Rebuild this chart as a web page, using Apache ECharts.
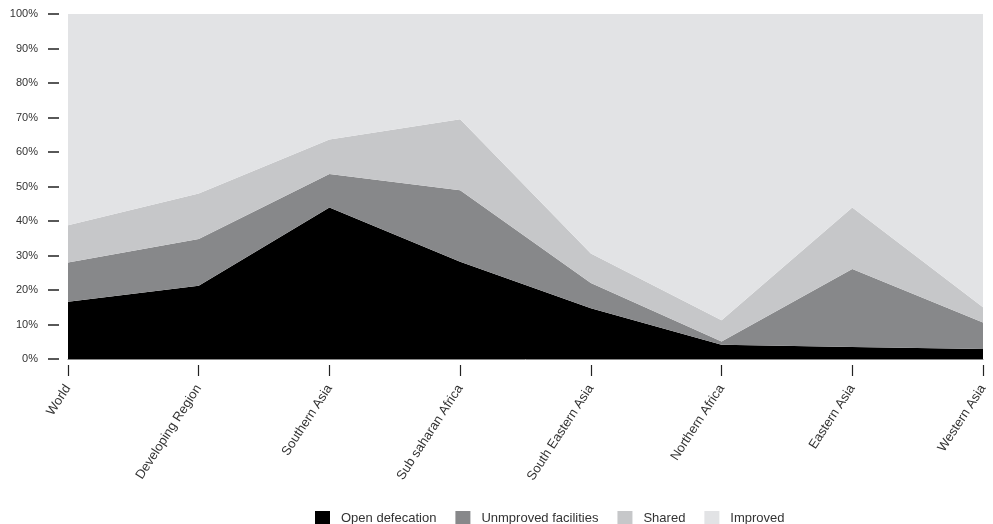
<!DOCTYPE html>
<html><head><meta charset="utf-8">
<script src="https://cdn.jsdelivr.net/npm/echarts@6/dist/echarts.min.js"></script>
<style>html,body{margin:0;padding:0;background:#fff}#c{width:993px;height:524px}</style>
</head><body><div id="c"></div>
<script>
const categories = ["World","Developing Region","Southern Asia","Sub saharan Africa","South Eastern Asia","Northern Africa","Eastern Asia","Western Asia"];
const openDefecation = [16.6, 21.2, 43.9, 28.2, 14.7, 4.1, 3.5, 2.9];
const unimproved     = [11.4, 13.6, 9.7, 20.7, 7.3, 1.0, 22.6, 7.7];
const shared         = [10.8, 13.2, 10.0, 20.6, 8.6, 6.1, 17.8, 4.4];
const improved       = [61.2, 52.0, 36.4, 30.5, 69.4, 88.8, 56.1, 85.0];
const seriesNames = ["Open defecation","Unmproved facilities","Shared","Improved"];
const colors = ["#000000","#87888a","#c6c7c9","#e2e3e5"];
const yTicks = [0,10,20,30,40,50,60,70,80,90,100];

const font = "'Liberation Sans', Arial, sans-serif";
const chart = echarts.init(document.getElementById('c'));
const data = [openDefecation, unimproved, shared, improved];
chart.setOption({
  animation:false,
  color: colors,
  grid:{left:68,right:10,top:14,bottom:165},
  legend:{
    left:310, top:506, itemWidth:15, itemHeight:15, itemGap:19,
    icon:'rect',
    textStyle:{fontFamily:font,fontSize:13,color:'#333',padding:[0,0,0,6]},
    data: seriesNames
  },
  xAxis:[{
    type:'category', data:categories, boundaryGap:false,
    axisLine:{show:true,lineStyle:{color:'#888',width:1}},
    axisTick:{show:false}, axisLabel:{show:false}, splitLine:{show:false}
  },{
    type:'category', data:categories, boundaryGap:false, position:'bottom', offset:6,
    axisLine:{show:false},
    axisTick:{show:true,length:11,lineStyle:{color:'#222',width:1.2}},
    axisLabel:{show:true,rotate:57,margin:21,fontFamily:font,fontSize:13,color:'#333'},
    splitLine:{show:false}
  }],
  yAxis:{
    type:'value', min:0, max:100, interval:10, offset:9,
    axisLine:{show:false},
    axisTick:{show:true,length:11,lineStyle:{color:'#222',width:1.5}},
    axisLabel:{margin:21,fontFamily:font,fontSize:11,color:'#333',formatter:v=>yTicks.includes(v)?v+'%':''},
    splitLine:{show:false}
  },
  series: seriesNames.map((n,i)=>({
    name:n, type:'line', stack:'total', data:data[i], symbol:'none',
    lineStyle:{width:0}, areaStyle:{color:colors[i],opacity:1}, itemStyle:{color:colors[i]},
    z: 2
  }))
});
</script></body></html>
